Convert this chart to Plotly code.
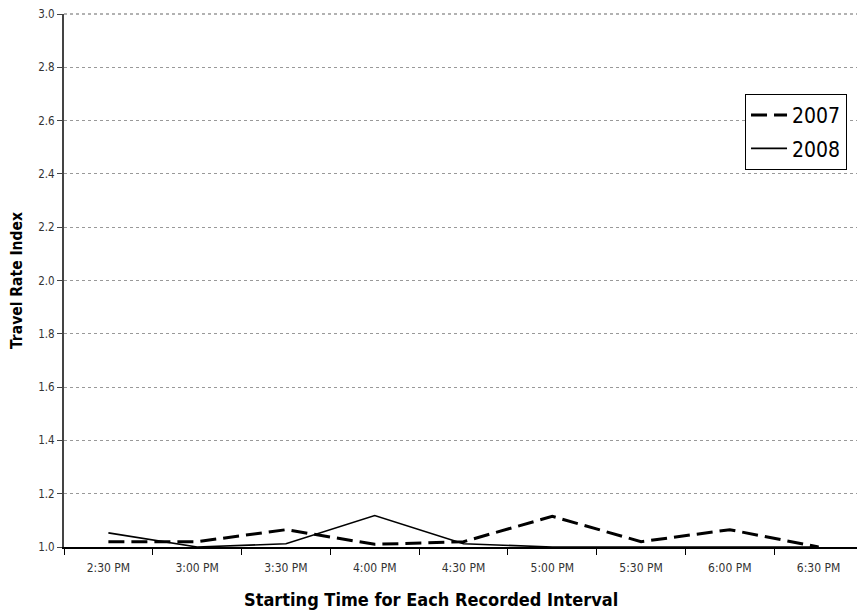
import plotly.graph_objects as go

categories = ["2:30 PM", "3:00 PM", "3:30 PM", "4:00 PM", "4:30 PM",
              "5:00 PM", "5:30 PM", "6:00 PM", "6:30 PM"]
series_2007 = [1.02, 1.02, 1.065, 1.01, 1.02, 1.115, 1.02, 1.065, 1.0]
series_2008 = [1.053, 1.0, 1.012, 1.118, 1.012, 1.0, 1.0, 1.0, 1.0]
y_ticks = [1.0, 1.2, 1.4, 1.6, 1.8, 2.0, 2.2, 2.4, 2.6, 2.8, 3.0]
x_title = "Starting Time for Each Recorded Interval"
y_title = "Travel Rate Index"

narrow = "DejaVu Sans Condensed, Liberation Sans Narrow, sans-serif"

fig = go.Figure()
fig.add_trace(go.Scatter(x=categories, y=series_2007, name="2007", mode="lines",
                         legendgroup="a",
                         line=dict(color="black", width=3, dash="16px,7px")))
fig.add_trace(go.Scatter(x=categories, y=series_2008, name="2008", mode="lines",
                         legendgroup="b",
                         line=dict(color="black", width=1.6)))

fig.update_layout(
    width=858, height=607,
    margin=dict(l=56, r=3, t=6, b=68, autoexpand=False),
    paper_bgcolor="white", plot_bgcolor="white",
    font=dict(family=narrow, color="#222"),
    showlegend=True,
    legend=dict(x=0.98, y=0.85, xanchor="right", yanchor="top",
                bordercolor="black", borderwidth=1, bgcolor="white",
                font=dict(size=21, family=narrow, color="black"),
                traceorder="grouped", tracegroupgap=3, itemwidth=36),
    xaxis=dict(
        type="category", range=[-0.5, 8.5], automargin=False,
        showline=True, linecolor="black", linewidth=1.5,
        ticks="outside", tickson="boundaries", ticklen=6, tickcolor="black",
        tickfont=dict(size=12, family=narrow, color="#333"),
        ticklabelstandoff=9, ticklabeloverflow="allow",
        showgrid=False,
    ),
    yaxis=dict(
        range=[1.0, 3.0], tickvals=y_ticks, tickformat=".1f", automargin=False,
        showline=True, linecolor="#444", linewidth=2,
        ticks="outside", ticklen=5, tickcolor="#444",
        tickfont=dict(size=11.5, family=narrow, color="#333"),
        ticklabeloverflow="allow",
        showgrid=True, gridcolor="#999", griddash="dot", gridwidth=1,
        zeroline=False,
        title=dict(text="<b>" + y_title + "</b>",
                   font=dict(size=15.5, family=narrow, color="black"), standoff=18),
    ),
)
# x-axis title, centred on the page as in the original
fig.add_annotation(text="<b>" + x_title + "</b>", xref="paper", yref="paper",
                   x=0.459, y=-0.099, xanchor="center", yanchor="middle",
                   showarrow=False, font=dict(size=18, family=narrow, color="black"))
# plot-area border: top and right
fig.add_shape(type="line", xref="paper", yref="paper", x0=0, x1=1, y0=1, y1=1,
              line=dict(color="#999", width=1.5, dash="dot"))
fig.add_shape(type="line", xref="paper", yref="paper", x0=1, x1=1, y0=0, y1=1,
              line=dict(color="#999", width=1.5))

fig.write_html("out.html")
